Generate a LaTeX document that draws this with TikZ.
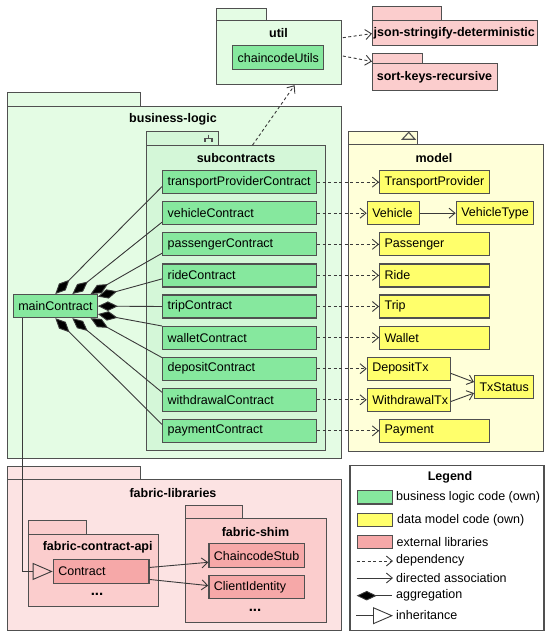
\documentclass[tikz,border=0pt]{standalone}
\usepackage{fontspec}
\setmainfont{Liberation Sans}
\usetikzlibrary{arrows.meta,calc}
\definecolor{bd}{HTML}{505050}
\definecolor{ln}{HTML}{3A3A3A}
\definecolor{pkggreen}{HTML}{E4FCE4}
\definecolor{subgreen}{HTML}{D4F7D8}
\definecolor{boxgreen}{HTML}{86E89E}
\definecolor{pkgyellow}{HTML}{FFFFD9}
\definecolor{boxyellow}{HTML}{FFFF6B}
\definecolor{pkgpink}{HTML}{FCE3E3}
\definecolor{innerpink}{HTML}{FBCDCD}
\definecolor{boxpink}{HTML}{F6A8A8}
\begin{document}
\begin{tikzpicture}[x=1pt,y=-1pt,
  font=\fontsize{12.5}{15}\selectfont,
  pkg/.style={draw=bd, line width=1.2pt, inner sep=0pt, anchor=north west},
  ttl/.style={font=\fontsize{12.5}{15}\selectfont\bfseries, inner sep=0pt},
  dots/.style={font=\fontsize{15}{15}\selectfont\bfseries, inner sep=0pt},
  cbox/.style={draw=bd, line width=1.2pt, anchor=north west, inner xsep=5pt, inner ysep=0pt, align=left},
  gbox/.style={cbox, fill=boxgreen, minimum height=23pt, text width=144pt},
  ybox/.style={cbox, fill=boxyellow, minimum height=23pt},
  pbox/.style={cbox, fill=boxpink},
  dep/.style={draw=ln, line width=0.9pt, dash pattern=on 3pt off 2.5pt, -{Straight Barb[length=6pt,width=10pt,line width=0.9pt]}},
  assoc/.style={draw=ln, line width=0.9pt, -{Straight Barb[length=6pt,width=10pt,line width=0.9pt]}},
  aggr/.style={draw=ln, line width=0.9pt, {Diamond[length=20pt,width=9.5pt,fill=black]}-},
  inh/.style={draw=ln, line width=0.9pt, -{Triangle[open,length=20pt,width=17pt,line width=0.9pt]}},
  sw/.style={draw=bd, line width=1.2pt, anchor=north west, inner sep=0pt, minimum width=35pt, minimum height=13.3pt},
  ltxt/.style={anchor=west, inner sep=0pt}
]
\fill[white] (0,0) rectangle (550,639);
\useasboundingbox (0,0) rectangle (550,639);

% ---------- util ----------
\node[pkg, fill=pkggreen, minimum width=50pt, minimum height=12pt] (utiltab) at (216,8) {};
\node[pkg, fill=pkggreen, minimum width=125pt, minimum height=64pt] (util) at (216,20) {};
\node[ttl] (utilt) at (278.5,33.5) {util};
\node[cbox, fill=boxgreen, minimum height=24pt, text width=81pt] (cu) at (232,45) {chaincodeUtils};

% ---------- json / sort ----------
\node[pkg, fill=innerpink, minimum width=69pt, minimum height=14pt] (jsontab) at (372,6) {};
\node[pkg, fill=innerpink, minimum width=164.7pt, minimum height=25pt] (json) at (372,20) {};
\node[ttl] (jsont) at (454.3,33) {json-stringify-deterministic};
\node[pkg, fill=innerpink, minimum width=50pt, minimum height=10pt] (sorttab) at (372,53) {};
\node[pkg, fill=innerpink, minimum width=125pt, minimum height=27pt] (sort) at (372,63) {};
\node[ttl] (sortt) at (434.5,77) {sort-keys-recursive};

% ---------- business-logic ----------
\node[pkg, fill=pkggreen, minimum width=133pt, minimum height=13.7pt] (bltab) at (7,92) {};
\node[pkg, fill=pkggreen, minimum width=334pt, minimum height=352.3pt] (bl) at (7,105.7) {};
\node[ttl] (blt) at (173,119) {business-logic};

% subcontracts
\node[pkg, fill=subgreen, minimum width=72pt, minimum height=14pt] (subtab) at (146,131) {};
\node[pkg, fill=subgreen, minimum width=179pt, minimum height=305pt] (sub) at (146,145) {};
\node[ttl] (subt) at (236,158) {subcontracts};
\draw[bd, line width=1.1pt] (208.5,134.7) -- (208.5,138.5) (205,142) -- (205,138.5) -- (212,138.5) -- (212,142);

\node[gbox] (c1) at (162,170) {transportProviderContract};
\node[gbox] (c2) at (162,201.1) {vehicleContract};
\node[gbox] (c3) at (162,232.2) {passengerContract};
\node[gbox] (c4) at (162,263.3) {rideContract};
\node[gbox] (c5) at (162,294.4) {tripContract};
\node[gbox] (c6) at (162,325.5) {walletContract};
\node[gbox] (c7) at (162,356.6) {depositContract};
\node[gbox] (c8) at (162,387.7) {withdrawalContract};
\node[gbox] (c9) at (162,418.8) {paymentContract};

\node[cbox, fill=boxgreen, minimum height=23pt, text width=74pt] (main) at (12.7,294) {mainContract};

% ---------- model ----------
\node[pkg, fill=pkgyellow, minimum width=69pt, minimum height=13pt] (modeltab) at (348,131) {};
\node[pkg, fill=pkgyellow, minimum width=195pt, minimum height=307pt] (model) at (348,144) {};
\node[ttl] (modelt) at (434,158) {model};
\draw[bd, line width=1.1pt] (402.3,139.3) -- (408.7,132.3) -- (415,139.3) -- cycle;

\node[ybox, text width=100pt] (m1) at (379,170) {TransportProvider};
\node[ybox, text width=42.3pt] (mveh) at (366.7,201.1) {Vehicle};
\node[ybox, text width=67pt] (mvt) at (455.7,201.1) {VehicleType};
\node[ybox, text width=100pt] (m3) at (379,232.2) {Passenger};
\node[ybox, text width=100pt] (m4) at (379,263.3) {Ride};
\node[ybox, text width=100pt] (m5) at (379,294.4) {Trip};
\node[ybox, text width=100pt] (m6) at (379,325.5) {Wallet};
\node[ybox, text width=73pt] (mdep) at (366.7,356.6) {DepositTx};
\node[ybox, text width=73pt] (mwd) at (366.7,387.7) {WithdrawalTx};
\node[ybox, text width=48.7pt] (txs) at (474,375) {TxStatus};
\node[ybox, text width=100pt] (m9) at (379,418.8) {Payment};

% ---------- fabric-libraries ----------
\node[pkg, fill=pkgpink, minimum width=133pt, minimum height=13.3pt] (fltab) at (7,465.7) {};
\node[pkg, fill=pkgpink, minimum width=334pt, minimum height=151pt] (fl) at (7,479) {};
\node[ttl] (flt) at (173,492.7) {fabric-libraries};

\node[pkg, fill=innerpink, minimum width=58.3pt, minimum height=14pt] (fcatab) at (27.7,520) {};
\node[pkg, fill=innerpink, minimum width=130pt, minimum height=72pt] (fca) at (27.7,534) {};
\node[ttl] (fcat) at (97.7,547.7) {fabric-contract-api};
\node[pbox, minimum height=23.7pt, text width=85.6pt] (contract) at (52.7,559) {Contract};
\node[dots] (fcadots) at (97,594) {...};

\node[pkg, fill=innerpink, minimum width=56.7pt, minimum height=13pt] (fstab) at (185,505) {};
\node[pkg, fill=innerpink, minimum width=141pt, minimum height=104pt] (fs) at (185,518) {};
\node[ttl] (fst) at (255.5,531.7) {fabric-shim};
\node[pbox, minimum height=24pt, text width=85.7pt] (stub) at (208.3,543) {ChaincodeStub};
\node[pbox, minimum height=23pt, text width=85.7pt] (cid) at (208.3,575) {ClientIdentity};
\node[dots] (fsdots) at (255,610) {...};

% ---------- connectors ----------
\draw[dep] (c1.east) -- (m1.west);
\draw[dep] (c2.east) -- (mveh.west);
\draw[dep] (c3.east) -- (m3.west);
\draw[dep] (c4.east) -- (m4.west);
\draw[dep] (c5.east) -- (m5.west);
\draw[dep] (c6.east) -- (m6.west);
\draw[dep] (c7.east) -- (mdep.west);
\draw[dep] (c8.east) -- (mwd.west);
\draw[dep] (c9.east) -- (m9.west);

\draw[dep] ($(sub.north)+(16.5,0)$) -- ($(util.south)+(15.5,0)$);
\draw[dep] ($(util.north east)+(0.6,17.7)$) -- ($(json.west)+(0,0.5)$);
\draw[dep] ($(util.north east)+(0.6,36)$) -- ($(sort.north west)+(0,-1.5)$);

\draw[assoc] (mveh.east) -- (mvt.west);
\draw[assoc] ($(mdep.east)+(0,4.7)$) -- ($(txs.west)+(0,-5)$);
\draw[assoc] ($(mwd.east)+(0,1.7)$) -- ($(txs.west)+(0,6)$);
\draw[assoc] ($(contract.east)+(0,-4)$) -- ($(stub.west)+(0,6.7)$);
\draw[assoc] ($(contract.east)+(0,8)$) -- ($(cid.west)+(0,-1.5)$);

\draw[aggr] ($(main.north)+(0,0)$) -- ($(c1.west)+(0,4.5)$);
\draw[aggr] ($(main.north)+(17,0)$) -- ($(c2.west)+(0,9)$);
\draw[aggr] ($(main.north)+(35.3,0)$) -- ($(c3.west)+(0,9)$);
\draw[aggr] ($(main.east)+(0,-9.5)$) -- ($(c4.west)+(0,3.5)$);
\draw[aggr] (main.east) -- (c5.west);
\draw[aggr] ($(main.east)+(0,8)$) -- ($(c6.north west)+(0,0.5)$);
\draw[aggr] ($(main.south)+(35.3,0)$) -- ($(c7.north west)+(0,1)$);
\draw[aggr] ($(main.south)+(17,0)$) -- ($(c8.west)+(0,-7.5)$);
\draw[aggr] ($(main.south)+(0,0)$) -- ($(c9.west)+(0,-6.5)$);

\draw[inh] ($(main.south)+(-33,0)$) |- (contract.west);

% ---------- legend ----------
\node[pkg, fill=white, minimum width=194pt, minimum height=165pt] (legend) at (349.3,465) {};
\node[ttl] (legt) at (450,477.3) {Legend};
\node[sw, fill=boxgreen] (sw1) at (356.7,490) {};
\node[sw, fill=boxyellow] (sw2) at (356.7,512.7) {};
\node[sw, fill=boxpink] (sw3) at (356.7,534.5) {};
\node[ltxt] (lt1) at (396,497.5) {business logic code (own)};
\node[ltxt] (lt2) at (397,520) {data model code (own)};
\node[ltxt] (lt3) at (396.5,542) {external libraries};
\node[ltxt] (lt4) at (396,560.5) {dependency};
\node[ltxt] (lt5) at (396,578) {directed association};
\node[ltxt] (lt6) at (396,595.5) {aggregation};
\node[ltxt] (lt7) at (396,615) {inheritance};
\coordinate (ld1) at (356.7,561);
\coordinate (ld2) at (393,561);
\coordinate (la1) at (356.7,578);
\coordinate (la2) at (393,578);
\coordinate (lg1) at (356.7,595.7);
\coordinate (lg2) at (392,595.7);
\coordinate (li1) at (356,615.7);
\coordinate (li2) at (393,615.7);
\draw[dep] (ld1) -- (ld2);
\draw[assoc] (la1) -- (la2);
\draw[aggr] (lg1) -- (lg2);
\draw[inh] (li1) -- (li2);
\end{tikzpicture}
\end{document}
